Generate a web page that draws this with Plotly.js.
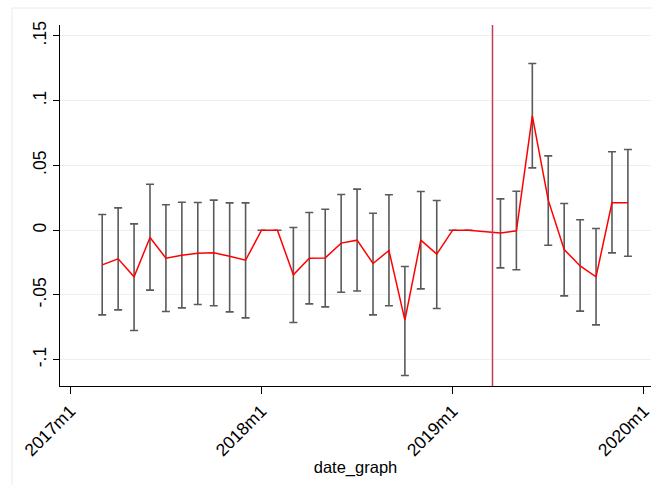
<!DOCTYPE html>
<html>
<head>
<meta charset="utf-8">
<script src="https://cdn.plot.ly/plotly-3.0.1.min.js"></script>
<style>html,body{margin:0;padding:0;background:#fff;}#chart{width:652px;height:485px;}</style>
</head>
<body>
<div id="chart"></div>
<script>
// Monthly periods (Stata %tm labels)
var dates = ["2017m3","2017m4","2017m5","2017m6","2017m7","2017m8","2017m9","2017m10","2017m11","2017m12",
  "2018m1","2018m2","2018m3","2018m4","2018m5","2018m6","2018m7","2018m8","2018m9","2018m10","2018m11","2018m12",
  "2019m1","2019m2","2019m4","2019m5","2019m6","2019m7","2019m8","2019m9","2019m10","2019m11","2019m12"];
var coef = [-0.0268,-0.0221,-0.0360,-0.0057,-0.0216,-0.0193,-0.0178,-0.0175,-0.0201,-0.0232,
  0,0,-0.0345,-0.0216,-0.0214,-0.0100,-0.0077,-0.0257,-0.0157,-0.0695,-0.0077,-0.0185,
  0,0,-0.0021,-0.0005,0.0883,0.0232,-0.0149,-0.0276,-0.0360,0.0211,0.0211];
var upper = [0.0121,0.0172,0.0049,0.0355,0.0196,0.0216,0.0214,0.0232,0.0211,0.0211,
  0,0,0.0021,0.0136,0.0162,0.0276,0.0317,0.0131,0.0273,-0.0281,0.0299,0.0229,
  0,0,0.0242,0.0301,0.1287,0.0574,0.0206,0.0080,0.0013,0.0605,0.0623];
var lower = [-0.0654,-0.0615,-0.0775,-0.0463,-0.0628,-0.0600,-0.0574,-0.0584,-0.0631,-0.0677,
  0,0,-0.0713,-0.0569,-0.0592,-0.0479,-0.0469,-0.0654,-0.0584,-0.1122,-0.0453,-0.0605,
  0,0,-0.0291,-0.0306,0.0481,-0.0116,-0.0507,-0.0625,-0.0731,-0.0175,-0.0201];
var tickLabels = ["2017m1","2018m1","2019m1","2020m1"];
var yTickVals = [-0.1,-0.05,0,0.05,0.1,0.15];
var yTickText = ["-.1","-.05","0",".05",".1",".15"];
var eventDate = "2019m3"; // reference line drawn half a month after this period

function tm(s){ var p = s.split("m"); return (parseInt(p[0],10)-2017)*12 + (parseInt(p[1],10)-1); }
var x = dates.map(tm);
var errPlus = upper.map(function(u,i){ return u - coef[i]; });
var errMinus = lower.map(function(l,i){ return coef[i] - l; });
var eventX = tm(eventDate) + 0.5;

var trace = {
  x: x, y: coef, type: "scatter", mode: "lines",
  line: {color: "#ff0000", width: 1.5},
  error_y: {type: "data", symmetric: false, array: errPlus, arrayminus: errMinus,
    color: "#5a5a5a", thickness: 1.6, width: 4},
  hoverinfo: "skip", showlegend: false
};

var font = "Liberation Sans, Arial, Helvetica, sans-serif";
var layout = {
  width: 652, height: 485,
  margin: {l: 60, r: 1, t: 25, b: 99},
  paper_bgcolor: "#ffffff", plot_bgcolor: "#ffffff",
  font: {family: font, size: 16, color: "#000"},
  showlegend: false,
  xaxis: {
    range: [-0.65, 36.45],
    tickmode: "array", tickvals: tickLabels.map(tm), ticktext: tickLabels,
    tickangle: -45, ticks: "outside", ticklen: 7, tickwidth: 1, tickcolor: "#000",
    ticklabeloverflow: "allow",
    showline: true, linecolor: "#000", linewidth: 1,
    showgrid: false, zeroline: false,
    tickfont: {family: font, size: 17.5, color: "#000"},
    title: {text: "date_graph", font: {family: font, size: 16.5, color: "#000"}, standoff: 2}
  },
  yaxis: {
    range: [-0.1203, 0.1584],
    tickmode: "array", tickvals: yTickVals, ticktext: yTickText,
    tickangle: -90, ticks: "outside", ticklen: 6, tickwidth: 1, tickcolor: "#000",
    ticklabeloverflow: "allow",
    showline: true, linecolor: "#000", linewidth: 1,
    showgrid: true, gridcolor: "#eaf1f4", gridwidth: 1, zeroline: false,
    tickfont: {family: font, size: 17.5, color: "#000"}
  },
  shapes: [
    {type: "rect", xref: "paper", yref: "paper", x0: -0.0813, x1: 1.05, y0: -0.3, y1: 1.047,
     line: {color: "#e6ecef", width: 1}, fillcolor: "rgba(0,0,0,0)", layer: "below"},
    {type: "line", xref: "x", yref: "paper", x0: eventX, x1: eventX, y0: 0, y1: 1,
     line: {color: "#c83a5c", width: 1.5}}
  ]
};

Plotly.newPlot("chart", [trace], layout, {displayModeBar: false, staticPlot: true});
</script>
</body>
</html>
